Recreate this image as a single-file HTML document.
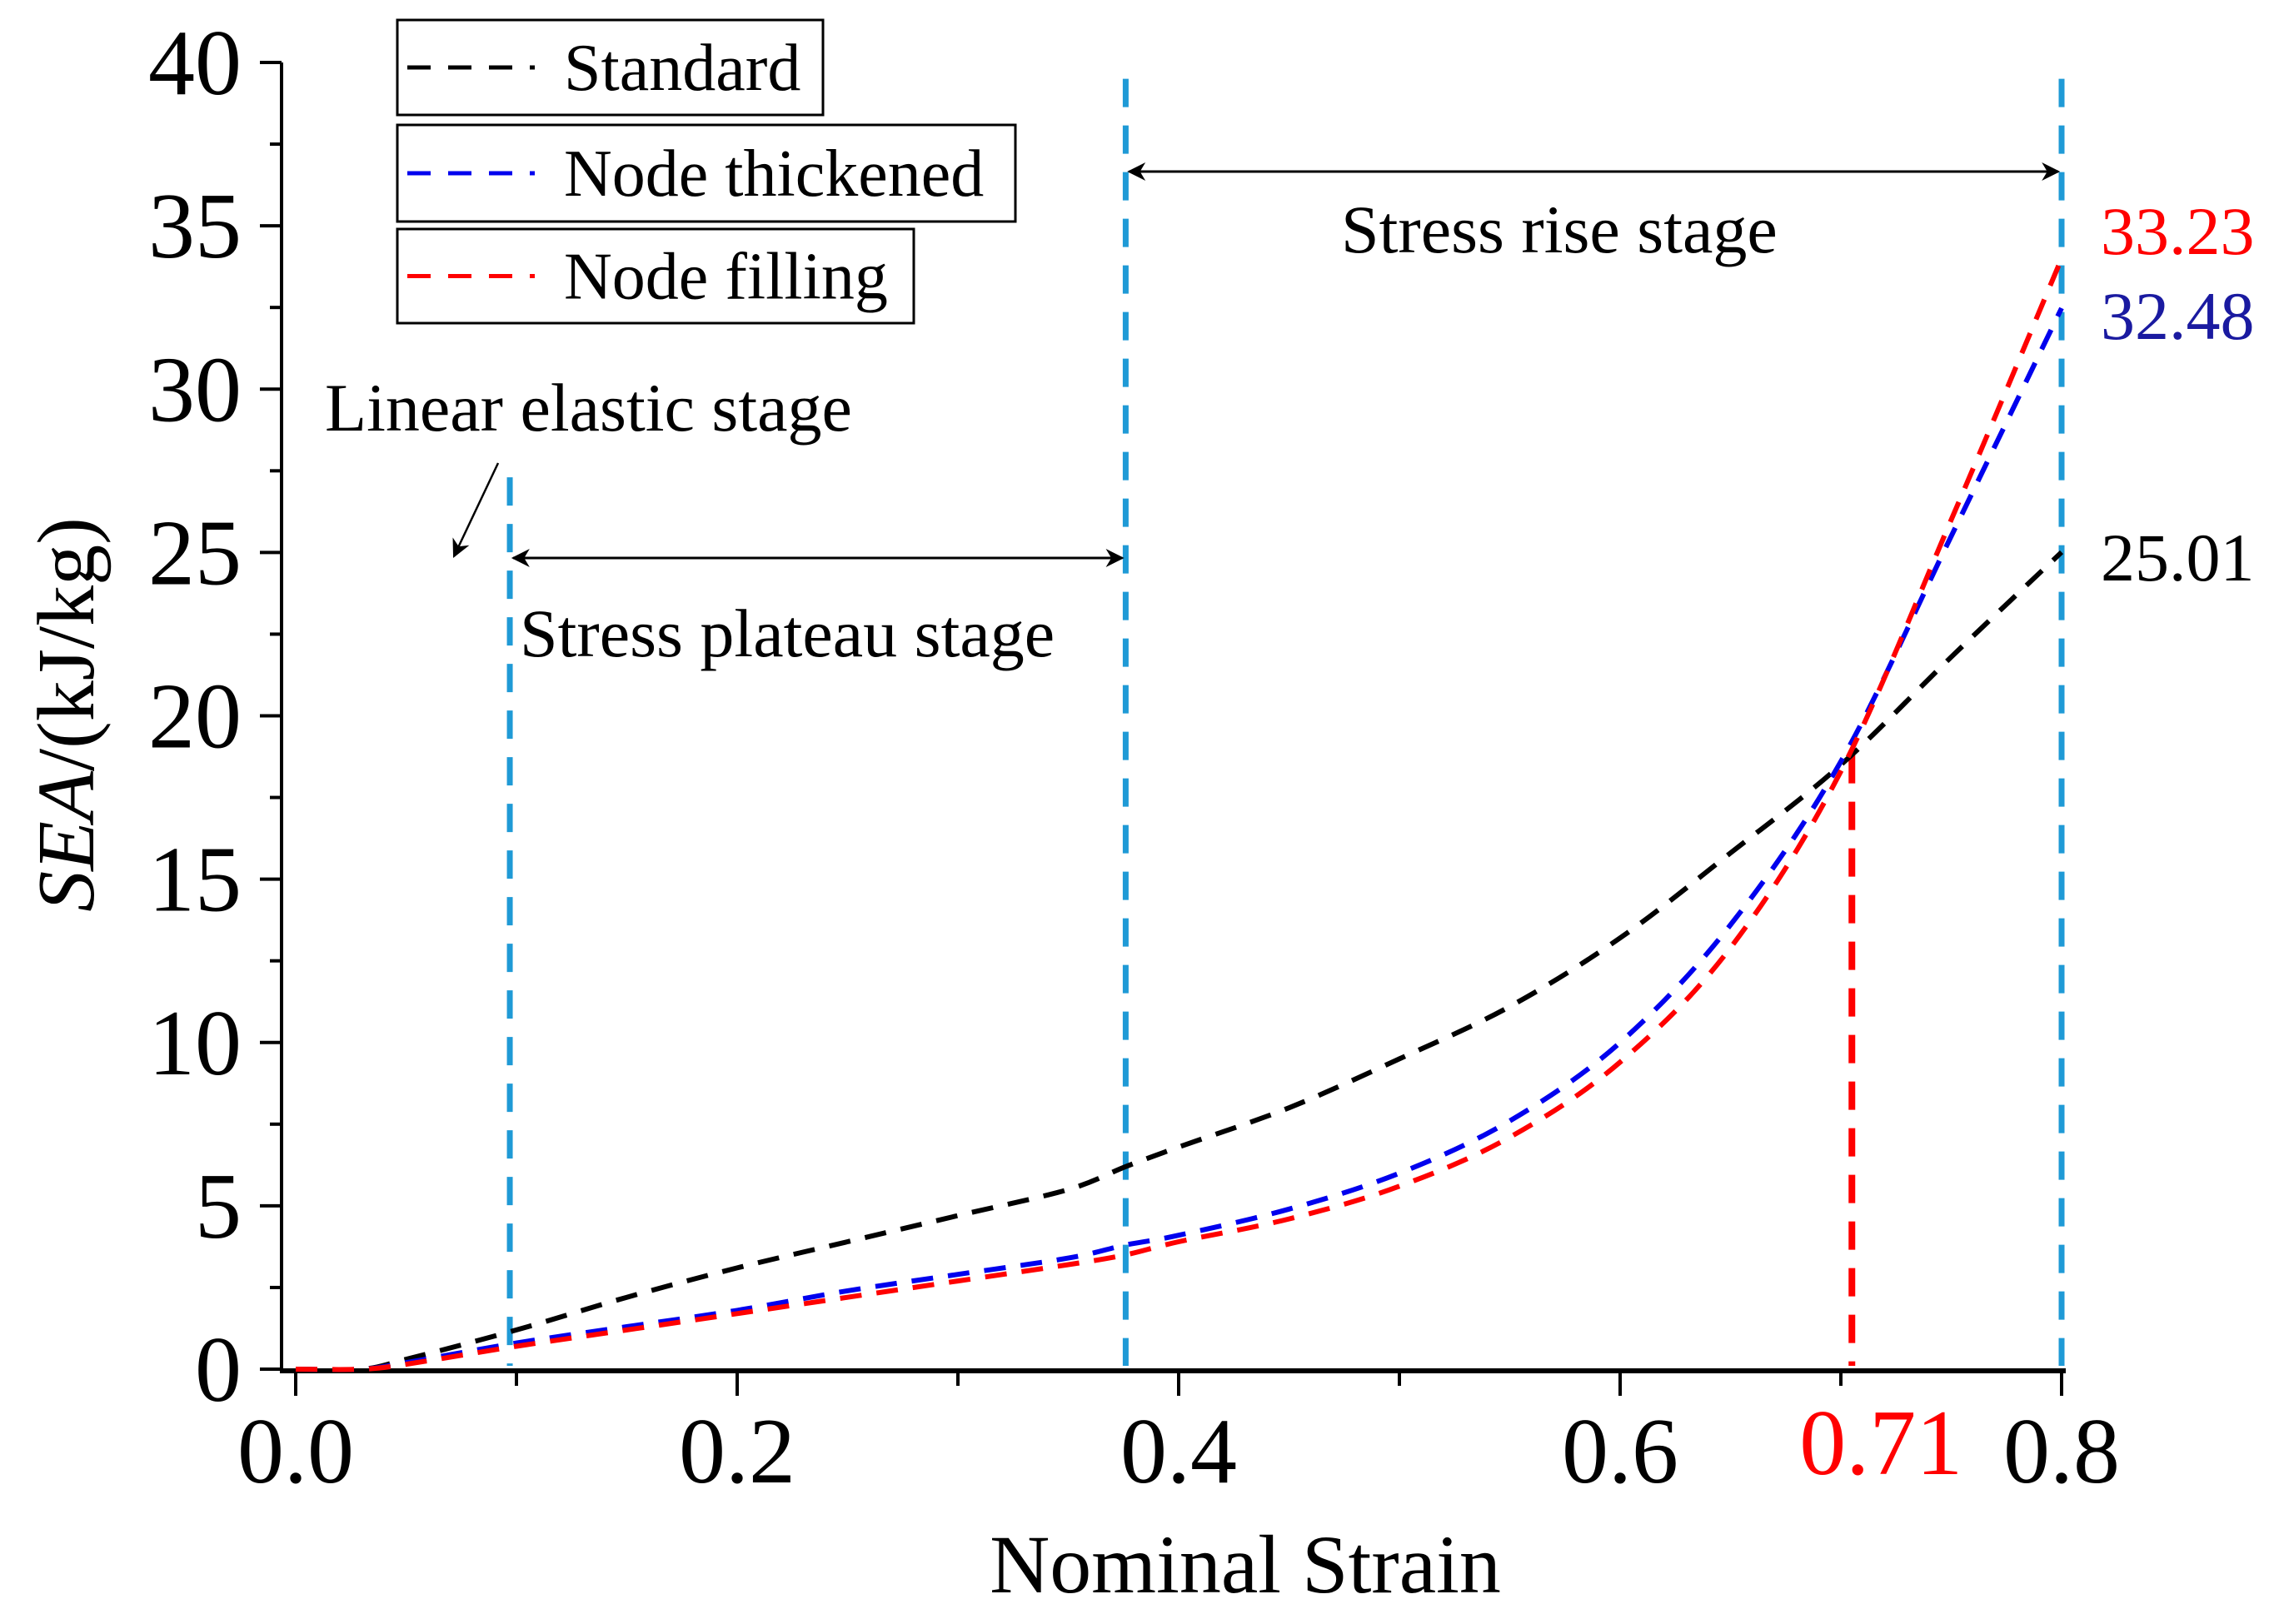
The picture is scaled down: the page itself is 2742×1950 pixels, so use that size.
<!DOCTYPE html>
<html><head><meta charset="utf-8"><style>
html,body{margin:0;padding:0;background:#fff;}
svg, svg text{font-family:"Liberation Serif","Times New Roman",serif;}
svg{display:block;}
</style></head><body>
<svg id="chart" width="2742" height="1950" viewBox="0 0 2742 1950" xmlns="http://www.w3.org/2000/svg" font-family="Liberation Serif, serif">
<g id="marks"></g>
</svg>
<script>
const strains = [0,0.03,0.05,0.1,0.15,0.2,0.25,0.3,0.35,0.376,0.4,0.45,0.5,0.55,0.6,0.65,0.7,0.75,0.8];
const standardSEA = [0,0,0.3,1.2,2.2,3.1,3.9,4.7,5.5,6.2,6.8,8.0,9.5,11.1,13.2,15.8,18.5,21.8,25.01];
const thickenedSEA = [0,0,0.2,0.8,1.3,1.8,2.4,2.9,3.4,3.8,4.1,4.9,6.0,7.6,10.0,13.6,18.6,25.5,32.48];
const fillingSEA = [0,0,0.15,0.7,1.2,1.7,2.2,2.7,3.2,3.5,3.9,4.6,5.6,7.1,9.4,12.9,18.3,26.0,34.0];
const xTicks = ["0.0","0.2","0.4","0.6","0.8"];
const yTicks = ["0","5","10","15","20","25","30","35","40"];
const stageLines = [0.097,0.376,0.8];
const criticalStrain = 0.705;

const NS="http://www.w3.org/2000/svg";
const svg=document.getElementById('chart');
const FF='Liberation Serif, Times New Roman, serif';
const X=v=>355+(v/0.8)*2120;
const Y=v=>1644-(v/40)*1569;
function mk(tag,attrs,text){const e=document.createElementNS(NS,tag);for(const k in attrs)e.setAttribute(k,attrs[k]);if(tag==='text')e.setAttribute('font-family',FF);if(text!==undefined)e.textContent=text;svg.appendChild(e);return e;}

let e=mk('line',{x1:338,y1:Y(40),x2:338,y2:1646,stroke:'#000','stroke-width':4});


e=mk('line',{x1:336,y1:1646,x2:2480,y2:1646,stroke:'#000','stroke-width':6});



yTicks.forEach((t,i)=>{
  const v=+t;
  const tk=mk('line',{x1:312,y1:Y(v),x2:338,y2:Y(v),stroke:'#000','stroke-width':4});
  
  
  if(i<yTicks.length-1){const m=mk('line',{x1:324,y1:Y(v+2.5),x2:338,y2:Y(v+2.5),stroke:'#000','stroke-width':4});
  
  }
  const lb=mk('text',{x:290,y:Y(v)+38,'text-anchor':'end','font-size':112},t);
  
  
});
for(let k=0;k<=8;k++){
  const v=k*0.1;const major=k%2===0;
  const tk=mk('line',{x1:X(v),y1:1646,x2:X(v),y2:major?1676:1664,stroke:'#000','stroke-width':4});
  
  
}
xTicks.forEach(t=>{
  const lb=mk('text',{x:X(+t),y:1780,'text-anchor':'middle','font-size':112},t);
  
  
});
e=mk('text',{x:X(criticalStrain)+35,y:1770,'text-anchor':'middle','font-size':112,fill:'#f00'},'0.71');



stageLines.forEach((s,i)=>{
  const l=mk('line',{x1:X(s),y1:i===0?Y(27.3):Y(39.5),x2:X(s),y2:1640,stroke:'#1f9ad6','stroke-width':7,'stroke-dasharray':'34 22'});
  
  
});
e=mk('line',{x1:X(criticalStrain),y1:Y(18.8),x2:X(criticalStrain),y2:1640,stroke:'#f00','stroke-width':8,'stroke-dasharray':'34 22'});



function series(vals,color,name){
  const P=strains.map((s,i)=>[X(s),Y(vals[i])]);
  let d='M'+P[0][0]+','+P[0][1];
  for(let i=0;i<P.length-1;i++){
    const p0=P[Math.max(0,i-1)],p1=P[i],p2=P[i+1],p3=P[Math.min(P.length-1,i+2)];
    const c1=[p1[0]+(p2[0]-p0[0])/6,p1[1]+(p2[1]-p0[1])/6];
    const c2=[p2[0]-(p3[0]-p1[0])/6,p2[1]-(p3[1]-p1[1])/6];
    d+=' C'+c1[0].toFixed(1)+','+c1[1].toFixed(1)+' '+c2[0].toFixed(1)+','+c2[1].toFixed(1)+' '+p2[0].toFixed(1)+','+p2[1].toFixed(1);
  }
  const p=mk('path',{d:d,fill:'none',stroke:color,'stroke-width':6,'stroke-dasharray':'26 18'});
  
  
}
series(standardSEA,'#000','standard-line');
series(thickenedSEA,'#0000ee','node-thickened-line');
series(fillingSEA,'#ff0000','node-filling-line');

const defs=document.createElementNS(NS,'defs');
defs.innerHTML='<marker id="ah" markerWidth="26" markerHeight="22" refX="9" refY="5" orient="auto-start-reverse" markerUnits="userSpaceOnUse" viewBox="0 0 10 10"><path d="M0,0 L10,5 L0,10 L3,5z" fill="#000"/></marker>';
svg.insertBefore(defs,svg.firstChild);
e=mk('line',{x1:X(0.097)+4,y1:670,x2:X(0.376)-4,y2:670,stroke:'#000','stroke-width':3,'marker-start':'url(#ah)','marker-end':'url(#ah)'});


e=mk('line',{x1:X(0.376)+4,y1:206,x2:X(0.8)-4,y2:206,stroke:'#000','stroke-width':3,'marker-start':'url(#ah)','marker-end':'url(#ah)'});


e=mk('line',{x1:598,y1:556,x2:545,y2:668,stroke:'#000','stroke-width':2.5,'marker-end':'url(#ah)'});



function txt(x,y,s,size,fill,name,anchor){const t=mk('text',{x:x,y:y,'font-size':size,fill:fill||'#000','text-anchor':anchor||'start'},s);return t;}
txt(390,517,'Linear elastic stage',82,'#000','linear-elastic-label');
txt(624,788,'Stress plateau stage',82,'#000','stress-plateau-label');
txt(1610,303,'Stress rise stage',82,'#000','stress-rise-label');
txt(2522,305,'33.23',82,'#ff0000','node-filling-end-value');
txt(2522,407,'32.48',82,'#1a1aa0','node-thickened-end-value');
txt(2522,697,'25.01',82,'#000','standard-end-value');
txt(1495,1912,'Nominal Strain',100,'#000','x-axis-title','middle');
const yt=mk('text',{x:0,y:0,'font-size':98,'text-anchor':'middle',transform:'translate(112,858) rotate(-90)'});
yt.innerHTML='<tspan font-style="italic">SEA</tspan>/(kJ/kg)';



const leg=[['Standard','#000',477,24,988,138],['Node thickened','#0000ee',477,150,1219,266],['Node filling','#ff0000',477,275,1097,388]];
leg.forEach(([label,c,x1,y1,x2,y2])=>{
  const g=document.createElementNS(NS,'g');svg.appendChild(g);
  
  
  const r=document.createElementNS(NS,'rect');
  r.setAttribute('x',x1);r.setAttribute('y',y1);r.setAttribute('width',x2-x1);r.setAttribute('height',y2-y1);
  r.setAttribute('fill','#fff');r.setAttribute('stroke','#000');r.setAttribute('stroke-width',3);g.appendChild(r);
  const my=(y1+y2)/2;
  const l=document.createElementNS(NS,'line');
  l.setAttribute('x1',x1+12);l.setAttribute('x2',x1+165);l.setAttribute('y1',my);l.setAttribute('y2',my);
  l.setAttribute('stroke',c);l.setAttribute('stroke-width',5);l.setAttribute('stroke-dasharray','28 21');g.appendChild(l);
  const t=document.createElementNS(NS,'text');
  t.setAttribute('font-family',FF);
  t.setAttribute('x',x1+200);t.setAttribute('y',my+27);t.setAttribute('font-size',80);t.textContent=label;g.appendChild(t);
});
</script>
</body></html>
